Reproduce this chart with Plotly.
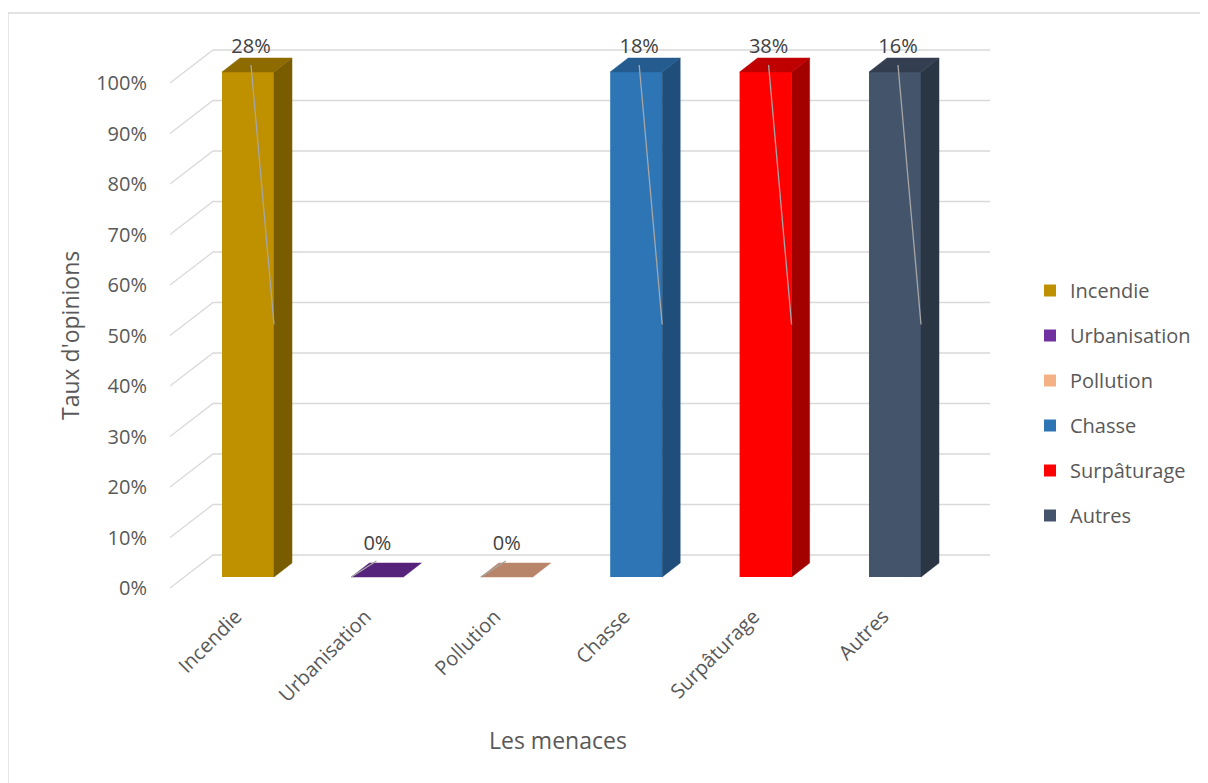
import plotly.graph_objects as go

# ---------------- data ----------------
categories = ["Incendie", "Urbanisation", "Pollution", "Chasse", "Surpâturage", "Autres"]
pct = [28, 0, 0, 18, 38, 16]                      # data labels (% of opinions)
y_ticks = [0, 0.1, 0.2, 0.3, 0.4, 0.5, 0.6, 0.7, 0.8, 0.9, 1.0]
y_tick_labels = ["0%", "10%", "20%", "30%", "40%", "50%", "60%", "70%", "80%", "90%", "100%"]

# 100 % stacked columns: each category holds a single series, so its column
# is that series' share of the category total (empty category -> 0)
share = [(v / v) if v else 0.0 for v in pct]

# ---------------- styles ----------------
front_colors = ["#BF9000", "#7030A0", "#F4B183", "#2E75B6", "#FF0000", "#44546A"]
top_colors = ["#8E6B00", "#55237C", "#B8856A", "#245C8F", "#C00000", "#333F50"]
side_colors = ["#7A5C00", "#4A1E6B", "#A0735C", "#1F4E7A", "#A30000", "#2B3645"]
TEXT = "#595959"
LABEL = "#404040"
GRID = "#D9D9D9"
FONT = "Open Sans"

W, H = 1208, 783
OFF = 8                                  # page body margin of the html page
L, R, T, B = 170, 990, 15, 595          # plot area in page pixels
X0, Y0 = 234.0, 588.0                   # front-plane origin (category 0, 0 %)
SX, SY = 129.4, 505.0                   # px per category / px per 100 %
x_range = [(L - X0) / SX, (R - X0) / SX]
y_range = [(Y0 - B) / SY, (Y0 - T) / SY]
WALL_DX, WALL_DY = 43 / SX, 33 / SY     # full depth of the 3-D box
BAR_DX, BAR_DY = 14 / SX, 11 / SY       # front of the columns
DEP_DX, DEP_DY = 18 / SX, 14 / SY       # depth of the columns
BAR_W = 52 / SX


def px_x(p):
    return (p - L) / (R - L)


def px_y(p):
    return (B - p) / (B - T)


fig = go.Figure()

# back wall + side wall gridlines
shapes = []
for v in y_ticks:
    xa, ya = x_range[0], v
    xb, yb = x_range[0] + WALL_DX, v + WALL_DY
    shapes.append(dict(type="path", xref="x", yref="y", layer="below",
                       path=f"M{xa},{ya} L{xb},{yb} L{x_range[1]},{yb}",
                       line=dict(color=GRID, width=1.3)))
# chart area border
shapes.append(dict(type="rect", xref="paper", yref="paper", layer="below",
                   x0=px_x(8), x1=px_x(1230), y0=px_y(800), y1=px_y(13),
                   line=dict(color=GRID, width=1.3)))

# front faces (columns)
for i, cat in enumerate(categories):
    xc = i + BAR_DX
    fig.add_trace(go.Bar(
        x=[xc], y=[share[i]], base=[BAR_DY], width=[BAR_W],
        marker=dict(color=front_colors[i], line=dict(width=0)),
        name=cat, legendgroup=cat, hoverinfo="skip",
    ))

# side and top faces
for i, cat in enumerate(categories):
    xc = i + BAR_DX
    xl, xr = xc - BAR_W / 2, xc + BAR_W / 2
    b = BAR_DY
    t = BAR_DY + share[i]
    if share[i] > 0:
        fig.add_trace(go.Scatter(
            x=[xr, xr + DEP_DX, xr + DEP_DX, xr, xr],
            y=[b, b + DEP_DY, t + DEP_DY, t, b],
            mode="lines", fill="toself", fillcolor=side_colors[i],
            line=dict(color=side_colors[i], width=0.5),
            showlegend=False, hoverinfo="skip", legendgroup=cat))
    fig.add_trace(go.Scatter(
        x=[xl, xl + DEP_DX, xr + DEP_DX, xr, xl],
        y=[t, t + DEP_DY, t + DEP_DY, t, t],
        mode="lines", fill="toself", fillcolor=top_colors[i],
        line=dict(color=top_colors[i], width=0.5),
        showlegend=False, hoverinfo="skip", legendgroup=cat))

# leader lines and data labels
for i, cat in enumerate(categories):
    xc = i + BAR_DX
    xl, xr = xc - BAR_W / 2, xc + BAR_W / 2
    b = BAR_DY
    t = BAR_DY + share[i]
    if share[i] > 0:
        lx = xc + 3 / SX
        ly = t + 24 / SY
        lead_x = [lx, xr]
        lead_y = [t + 7 / SY, b + share[i] / 2]
    else:
        lx = xc
        ly = t + 32 / SY
        lead_x = [xc - 1 / SX, xl]
        lead_y = [t + 16 / SY, b]
    fig.add_trace(go.Scatter(
        x=lead_x, y=lead_y, mode="lines",
        line=dict(color="#A6A6A6", width=1.3),
        showlegend=False, hoverinfo="skip"))
    fig.add_trace(go.Scatter(
        x=[lx], y=[ly], mode="text", text=[f"{pct[i]}%"],
        textposition="middle center",
        textfont=dict(family=FONT, size=20, color=LABEL),
        showlegend=False, hoverinfo="skip", cliponaxis=False))

fig.update_layout(
    width=W, height=H,
    margin=dict(l=L - OFF, r=W - (R - OFF), t=T - OFF, b=H - (B - OFF), pad=0),
    paper_bgcolor="white", plot_bgcolor="white",
    font=dict(family=FONT, size=20, color=TEXT),
    barmode="overlay",
    shapes=shapes,
    showlegend=True,
    legend=dict(
        xref="container", yref="container",
        x=1022 / W, y=1 - 263 / H, xanchor="left", yanchor="top",
        font=dict(family=FONT, size=20, color=TEXT),
        tracegroupgap=16, bgcolor="rgba(0,0,0,0)",
    ),
    xaxis=dict(
        range=x_range, tickmode="array",
        tickvals=[i + BAR_DX - 12 / SX for i in range(len(categories))],
        ticktext=categories, tickangle=-45, showgrid=False, zeroline=False,
        showline=False, ticks="", ticklabelstandoff=5,
        tickfont=dict(family=FONT, size=20, color=TEXT),
    ),
    yaxis=dict(
        range=y_range, tickmode="array", tickvals=y_ticks, ticktext=y_tick_labels,
        showgrid=False, zeroline=False, showline=False, ticks="",
        ticklabelstandoff=22, tickfont=dict(family=FONT, size=20, color=TEXT),
    ),
    annotations=[
        dict(text="Taux d'opinions", xref="paper", yref="paper",
             x=px_x(70), y=px_y(336), textangle=-90, showarrow=False,
             xanchor="center", yanchor="middle",
             font=dict(family=FONT, size=23, color=TEXT)),
        dict(text="Les menaces", xref="paper", yref="paper",
             x=px_x(558), y=px_y(740), showarrow=False,
             xanchor="center", yanchor="middle",
             font=dict(family=FONT, size=23, color=TEXT)),
    ],
)

fig.write_html("out.html")
